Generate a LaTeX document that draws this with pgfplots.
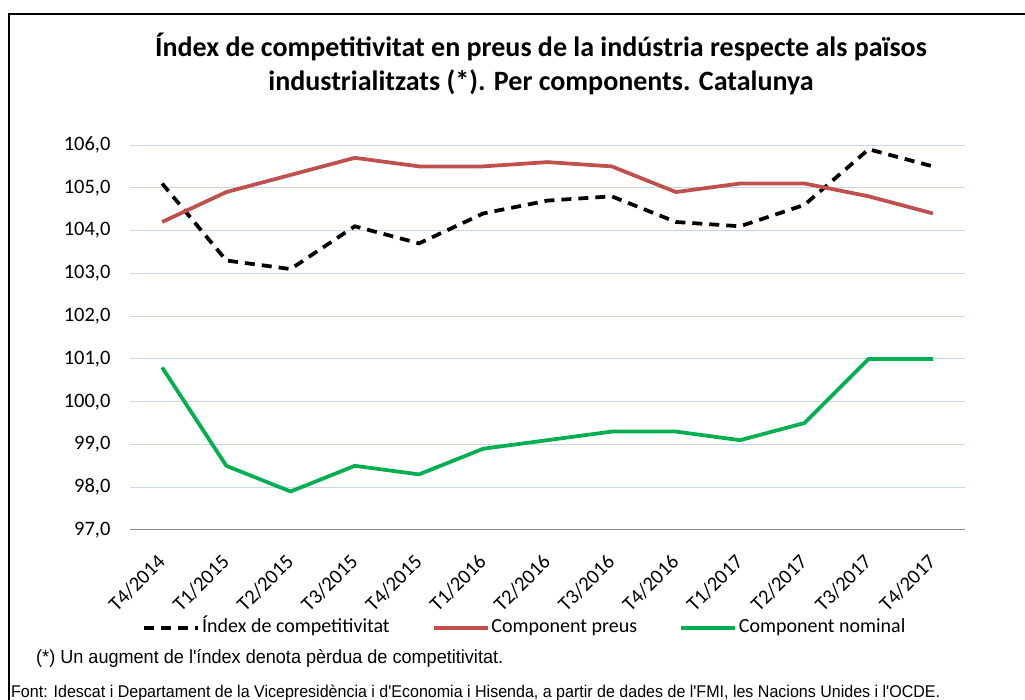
\documentclass[border=0pt]{standalone}
\usepackage{graphicx}
\usepackage{pgfplots}
\pgfplotsset{compat=1.18}
\usepackage{fontspec}
\setmainfont{Carlito}
\newfontfamily\arial{Liberation Sans}
\definecolor{cred}{HTML}{C0504D}
\definecolor{cgreen}{HTML}{00B050}
\definecolor{cgrid}{HTML}{C9D7EE}
\definecolor{caxis}{HTML}{8C8C8C}
\pgfplotsset{dashlegend/.style={legend image code/.code={\draw[##1] (0pt,0pt) -- (44pt,0pt); \path (0pt,0pt) -- (54pt,0pt);}}}
\begin{document}
\begin{tikzpicture}
\useasboundingbox (0pt,0pt) rectangle (1025pt,700pt);
\begin{scope}
\clip (0pt,0pt) rectangle (1025pt,700pt);
\draw[line width=2pt] (9pt,-20pt) -- (9pt,686pt) -- (1040pt,686pt);
\end{scope}
\node[font=\fontsize{28}{34}\selectfont\bfseries, align=center] at (541pt,636pt)
  {Índex de competitivitat en preus de la indústria respecte als països\\industrialitzats (*). Per components. Catalunya};
\begin{axis}[
  at={(130pt,170pt)}, anchor=south west,
  scale only axis, width=835pt, height=385pt,
  xmin=-0.5, xmax=12.5, ymin=97, ymax=106,
  ytick={97,98,...,106},
  xtick={0,...,12},
  xticklabels={T4/2014,T1/2015,T2/2015,T3/2015,T4/2015,T1/2016,T2/2016,T3/2016,T4/2016,T1/2017,T2/2017,T3/2017,T4/2017},
  axis x line*=bottom, axis y line*=left,
  y axis line style={draw=none},
  x axis line style={draw=caxis, line width=1pt, -},
  major tick length=0pt,
  ymajorgrids, grid style={cgrid, line width=1pt},
  /pgf/number format/assume math mode=true,
  yticklabel style={xshift=-16pt, /pgf/number format/fixed, /pgf/number format/fixed zerofill, /pgf/number format/precision=1, /pgf/number format/use comma},
  tick label style={font=\fontsize{20.5}{22}\selectfont, black},
  xticklabel style={xshift=-6pt, yshift=-18pt, rotate=45, anchor=north east},
  legend columns=3,
  legend style={at={(0.473,-0.2545)}, anchor=center, draw=none, font=\fontsize{20}{22}\selectfont,
    nodes={inner sep=2pt, text height=14pt, text depth=4pt},
    /tikz/every even column/.append style={column sep=40pt}},
  legend image code/.code={\draw[#1] (0pt,0pt) -- (54pt,0pt);},
]
\addplot[black, line width=3.75pt, dash pattern=on 10pt off 7pt, dashlegend] coordinates {
(0,105.1) (1,103.3) (2,103.1) (3,104.1) (4,103.7) (5,104.4) (6,104.7) (7,104.8) (8,104.2) (9,104.1) (10,104.6) (11,105.9) (12,105.5)};
\addlegendentry{Índex de competitivitat}
\addplot[cred, line width=3.75pt] coordinates {
(0,104.2) (1,104.9) (2,105.3) (3,105.7) (4,105.5) (5,105.5) (6,105.6) (7,105.5) (8,104.9) (9,105.1) (10,105.1) (11,104.8) (12,104.4)};
\addlegendentry{Component preus}
\addplot[cgreen, line width=3.75pt] coordinates {
(0,100.8) (1,98.5) (2,97.9) (3,98.5) (4,98.3) (5,98.9) (6,99.1) (7,99.3) (8,99.3) (9,99.1) (10,99.5) (11,101.0) (12,101.0)};
\addlegendentry{Component nominal}
\end{axis}
\node[anchor=base west, inner sep=0pt, font=\arial\fontsize{19}{20}\selectfont] at (36pt,36pt)
  {\resizebox{467pt}{\height}{(*) Un augment de l'índex denota pèrdua de competitivitat.}};
\node[anchor=base west, inner sep=0pt, font=\arial\fontsize{17}{18}\selectfont] at (11pt,2pt)
  {\resizebox{929pt}{\height}{Font: Idescat i Departament de la Vicepresidència i d'Economia i Hisenda, a partir de dades de l'FMI, les Nacions Unides i l'OCDE.}};
\end{tikzpicture}
\end{document}
